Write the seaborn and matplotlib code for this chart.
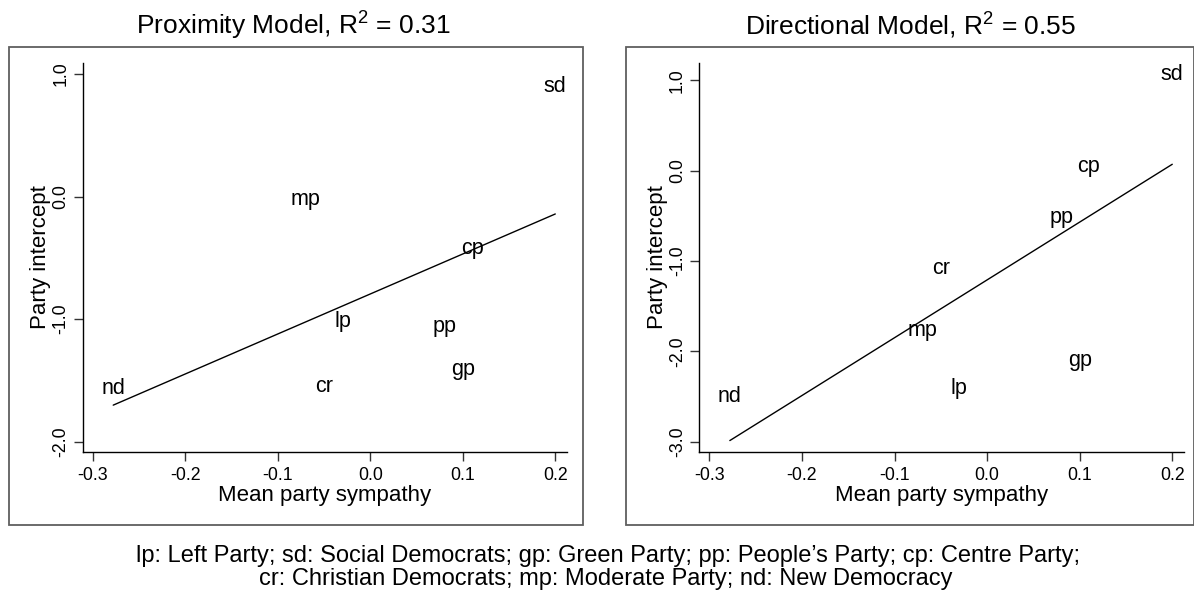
import numpy as np
import pandas as pd
import matplotlib
matplotlib.use("Agg")
import matplotlib.pyplot as plt
import seaborn as sns
from matplotlib.patches import Rectangle

# ---------------- data ----------------
parties = ["lp", "sd", "gp", "pp", "cp", "cr", "mp", "nd"]
sympathy = [-0.03, 0.20, 0.10, 0.08, 0.11, -0.05, -0.07, -0.278]
prox_intercept = [-1.02, 0.90, -1.415, -1.06, -0.42, -1.55, -0.02, -1.57]
dir_intercept = [-2.41, 1.06, -2.10, -0.52, 0.05, -1.08, -1.77, -2.50]

titles = ["Proximity Model", "Directional Model"]
r2_values = ["0.31", "0.55"]
x_ticks = [-0.3, -0.2, -0.1, 0.0, 0.1, 0.2]
prox_yticks = [1.0, 0.0, -1.0, -2.0]
dir_yticks = [1.0, 0.0, -1.0, -2.0, -3.0]
xlabel = "Mean party sympathy"
ylabel = "Party intercept"
footnote_lines = [
    "lp: Left Party; sd: Social Democrats; gp: Green Party; pp: People\u2019s Party; cp: Centre Party;",
    "cr: Christian Democrats; mp: Moderate Party; nd: New Democracy",
]

df = pd.DataFrame({"party": parties, "sympathy": sympathy,
                   "prox": prox_intercept, "dir": dir_intercept})

# ---------------- style ----------------
sns.set_style("white")
plt.rcParams["font.family"] = ["Liberation Sans", "DejaVu Sans"]
plt.rcParams["mathtext.default"] = "regular"
for k in ["text.color", "axes.labelcolor", "xtick.color", "ytick.color"]:
    plt.rcParams[k] = "black"

W, H = 1194, 594
fig = plt.figure(figsize=(W / 100, H / 100), dpi=100)
fig.patch.set_facecolor("white")

def fx(px):
    return px / W

def fy(py):
    return 1 - py / H

panels = [
    dict(col="prox", yticks=prox_yticks, ylim=(-2.084, 1.092),
         rect=[fx(82.7), fy(452), fx(567.3 - 82.7), (452 - 62.7) / H],
         box=(9, 46.7, 582.7, 525), title_x=293),
    dict(col="dir", yticks=dir_yticks, ylim=(-3.114, 1.196),
         rect=[fx(699.3), fy(452), fx(1184.3 - 699.3), (452 - 62.7) / H],
         box=(626, 47, 1193.5, 525), title_x=910),
]

for i, p in enumerate(panels):
    ax = fig.add_axes(p["rect"])
    ax.set_facecolor("white")
    sns.regplot(data=df, x="sympathy", y=p["col"], scatter=False, ci=None,
                truncate=True, ax=ax,
                line_kws=dict(color="black", lw=1.0))
    for _, r in df.iterrows():
        ax.text(r["sympathy"], r[p["col"]], r["party"], ha="center",
                va="center", fontsize=15.5, color="black")
    ax.set_xlim(-0.311, 0.213)
    ax.set_ylim(*p["ylim"])
    ax.set_xticks(x_ticks)
    ax.set_xticklabels([f"{v:.1f}" for v in x_ticks])
    ax.set_yticks(p["yticks"])
    ax.set_yticklabels([f"{v:.1f}" for v in p["yticks"]], rotation=90,
                       va="center")
    ax.tick_params(axis="both", direction="out", length=6.5, width=1,
                   color="#333333", labelcolor="black", labelsize=12.75,
                   pad=4, left=True, bottom=True)
    ax.tick_params(axis="y", pad=3)
    for s in ["top", "right"]:
        ax.spines[s].set_visible(False)
    for s in ["left", "bottom"]:
        ax.spines[s].set_color("black")
        ax.spines[s].set_linewidth(1.0)
    ax.set_xlabel(xlabel, fontsize=16, labelpad=1, color="black")
    ax.set_ylabel(ylabel, fontsize=16, labelpad=1, color="black")

    x0, y0, x1, y1 = p["box"]
    fig.add_artist(Rectangle((fx(x0), fy(y1)), fx(x1 - x0), (y1 - y0) / H,
                             transform=fig.transFigure, fill=False,
                             ec="#5f5f5f", lw=1.3))
    fig.text(fx(p["title_x"]), fy(35),
             f"{titles[i]}, R$^2$ = {r2_values[i]}",
             ha="center", va="baseline", fontsize=19, color="black")

fig.text(fx(608), fy(562), footnote_lines[0], ha="center", va="baseline",
         fontsize=17, color="black")
fig.text(fx(606), fy(585), footnote_lines[1], ha="center", va="baseline",
         fontsize=17, color="black")

fig.savefig("out.png", dpi=100, facecolor="white")
